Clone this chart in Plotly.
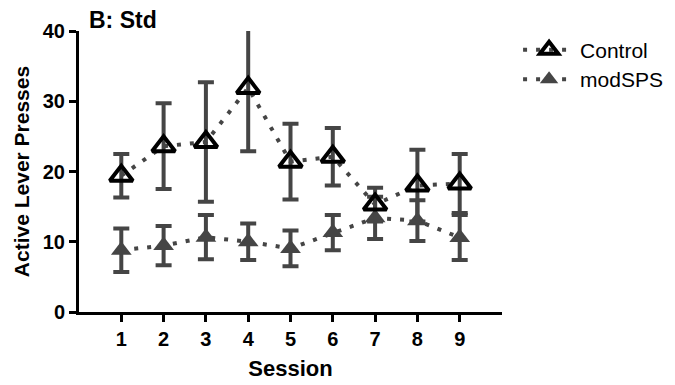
import plotly.graph_objects as go

sessions = [1, 2, 3, 4, 5, 6, 7, 8, 9]
control_mean = [19.4, 23.6, 24.2, 31.9, 21.4, 22.1, 15.3, 18.0, 18.3]
control_sem = [3.1, 6.1, 8.5, 9.0, 5.4, 4.1, 2.4, 5.1, 4.2]
modsps_mean = [8.8, 9.45, 10.65, 10.0, 9.05, 11.3, 13.4, 13.0, 10.6]
modsps_sem = [3.1, 2.8, 3.15, 2.6, 2.55, 2.5, 3.0, 2.9, 3.2]

ERR = "#454545"
FONT = "Liberation Sans, Arial, sans-serif"
DOTS = "4px,9px"

fig = go.Figure()

fig.add_trace(go.Scatter(
    x=sessions, y=modsps_mean, name="modSPS", mode="lines+markers",
    line=dict(color=ERR, width=4, dash=DOTS),
    marker=dict(symbol="triangle-up", size=18, color=ERR, line=dict(width=0)),
    error_y=dict(type="data", array=modsps_sem, color=ERR, thickness=4, width=8),
    cliponaxis=False, legend="legend2",
))
fig.add_trace(go.Scatter(
    x=sessions, y=control_mean, name="Control", mode="lines+markers",
    line=dict(color=ERR, width=4, dash=DOTS),
    marker=dict(symbol="triangle-up-open", size=20, color="black", line=dict(width=4, color="black")),
    error_y=dict(type="data", array=control_sem, color=ERR, thickness=4, width=8),
    cliponaxis=False, legend="legend",
))

axis_common = dict(
    showline=True, linecolor="black", linewidth=3, ticks="outside",
    ticklen=7, tickwidth=3, tickcolor="black", showgrid=False, zeroline=False,
    tickfont=dict(family=FONT, size=20, color="black", weight="bold"),
)

fig.update_layout(
    width=675, height=385,
    margin=dict(l=69, r=181, t=22, b=81),
    paper_bgcolor="white", plot_bgcolor="white",
    xaxis=dict(range=[0, 10], tickvals=sessions, **axis_common,
               title=dict(text="Session", standoff=12,
                          font=dict(family=FONT, size=22, color="black", weight="bold"))),
    yaxis=dict(range=[0, 40], tickvals=[0, 10, 20, 30, 40], **axis_common,
               title=dict(text="Active Lever Presses", standoff=8,
                          font=dict(family=FONT, size=21, color="black", weight="bold"))),
    legend=dict(x=1.038, y=1.005, xanchor="left", yanchor="top", itemwidth=52,
                font=dict(family=FONT, size=21, color="black"), bgcolor="rgba(0,0,0,0)"),
    legend2=dict(x=1.038, y=0.9, xanchor="left", yanchor="top", itemwidth=52,
                 font=dict(family=FONT, size=21, color="black"), bgcolor="rgba(0,0,0,0)"),
    showlegend=True,
    annotations=[dict(text="B: Std", xref="paper", yref="paper", x=0.02, y=1.0,
                      xanchor="left", yanchor="bottom", yshift=-4, showarrow=False,
                      font=dict(family=FONT, size=23, color="black", weight="bold"))],
)

fig.write_html("out.html")
